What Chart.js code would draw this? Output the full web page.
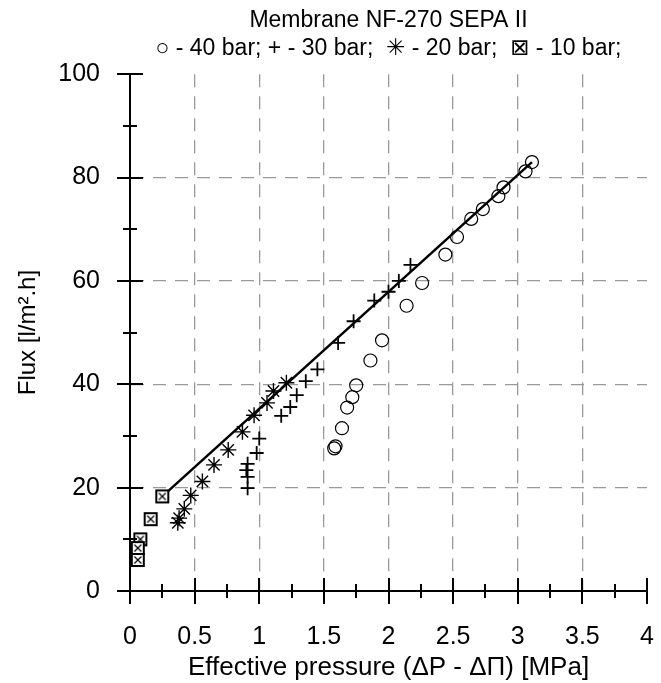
<!DOCTYPE html>
<html>
<head>
<meta charset="utf-8">
<script src="https://cdn.jsdelivr.net/npm/chart.js@4.4.1/dist/chart.umd.min.js"></script>
<style>
  html, body { margin: 0; padding: 0; background: #fff; }
</style>
</head>
<body>
<canvas id="fluxChart" width="661" height="683"></canvas>
<script>
// Membrane NF-270 SEPA II - flux vs effective pressure
const bar40X = [3.11, 3.06, 2.89, 2.85, 2.73, 2.64, 2.53, 2.44, 2.26, 2.14, 1.95, 1.86, 1.75, 1.72, 1.68, 1.64, 1.59, 1.58];
const bar40Y = [83.0, 81.2, 78.1, 76.4, 73.9, 72.0, 68.5, 65.1, 59.6, 55.2, 48.5, 44.6, 39.8, 37.5, 35.5, 31.5, 28.0, 27.6];

const bar30X = [2.17, 2.08, 2.00, 1.89, 1.73, 1.61, 1.45, 1.36, 1.29, 1.24, 1.17, 1.00, 0.98, 0.91, 0.90, 0.91, 0.91];
const bar30Y = [63.1, 60.0, 57.9, 56.2, 52.2, 48.0, 42.9, 40.6, 37.9, 35.6, 33.9, 29.5, 26.7, 24.6, 23.4, 22.1, 19.9];

const bar20X = [1.21, 1.11, 1.06, 0.96, 0.87, 0.76, 0.65, 0.56, 0.47, 0.42, 0.38, 0.37];
const bar20Y = [40.3, 38.7, 36.4, 34.0, 30.8, 27.3, 24.4, 21.2, 18.5, 15.9, 14.1, 13.2];

const bar10X = [0.25, 0.16, 0.08, 0.06, 0.06];
const bar10Y = [18.3, 13.9, 10.0, 8.3, 6.0];

// fitted line
const fitX = [0.25, 3.11];
const fitY = [18.3, 83.0];

const xTickLabels = ['0', '0.5', '1', '1.5', '2', '2.5', '3', '3.5', '4'];
const yTickLabels = ['0', '20', '40', '60', '80', '100'];

const FONT = "'Liberation Sans', Arial, 'DejaVu Sans', sans-serif";

function toPoints(xs, ys) {
    return xs.map((x, i) => ({ x: x, y: ys[i] }));
}

// square with a cross inside
function boxCross() {
    const c = document.createElement('canvas');
    c.width = 16; c.height = 16;
    const g = c.getContext('2d');
    g.fillStyle = '#fff';
    g.fillRect(2, 2, 12, 12);
    g.strokeStyle = '#000';
    g.lineWidth = 2;
    g.strokeRect(2, 2, 12, 12);
    g.lineWidth = 1.2;
    g.beginPath();
    g.moveTo(4.5, 4.5); g.lineTo(11.5, 11.5);
    g.moveTo(11.5, 4.5); g.lineTo(4.5, 11.5);
    g.stroke();
    return c;
}

// tick marks crossing the axes
const crossTicks = {
    id: 'crossTicks',
    afterDraw(chart) {
        const ctx = chart.ctx;
        const xs = chart.scales.x, ys = chart.scales.y;
        const x0 = xs.left, y0 = ys.bottom;
        ctx.save();
        ctx.strokeStyle = '#000';
        ctx.lineWidth = 2;
        ctx.beginPath();
        for (let v = 0; v <= 100; v += 10) {
            const len = v % 20 === 0 ? 13 : 7;
            const py = Math.round(ys.getPixelForValue(v));
            ctx.moveTo(x0 - len, py); ctx.lineTo(x0 + len, py);
        }
        for (let i = 0; i <= 16; i++) {
            const v = i * 0.25;
            const len = i % 2 === 0 ? 13 : 7;
            const px = Math.round(xs.getPixelForValue(v));
            ctx.moveTo(px, y0 - len); ctx.lineTo(px, y0 + len);
        }
        ctx.stroke();
        ctx.restore();
    }
};

const ctx = document.getElementById('fluxChart').getContext('2d');
new Chart(ctx, {
    type: 'scatter',
    data: {
        datasets: [
            {
                label: '10 bar',
                data: toPoints(bar10X, bar10Y),
                pointStyle: boxCross(),
                order: 0
            },
            {
                label: '20 bar',
                data: toPoints(bar20X, bar20Y),
                pointStyle: 'star',
                pointRadius: 8,
                borderColor: '#000',
                borderWidth: 1.4,
                order: 1
            },
            {
                label: '30 bar',
                data: toPoints(bar30X, bar30Y),
                pointStyle: 'cross',
                pointRadius: 7,
                borderColor: '#000',
                borderWidth: 1.8,
                order: 2
            },
            {
                label: '40 bar',
                data: toPoints(bar40X, bar40Y),
                pointStyle: 'circle',
                pointRadius: 6.5,
                borderColor: '#000',
                backgroundColor: 'rgba(0,0,0,0)',
                borderWidth: 1.2,
                order: 3
            },
            {
                type: 'line',
                label: 'fit',
                data: toPoints(fitX, fitY),
                borderColor: '#000',
                borderWidth: 2.5,
                pointRadius: 0,
                showLine: true,
                order: 5
            }
        ]
    },
    options: {
        responsive: false,
        animation: false,
        maintainAspectRatio: false,
        layout: { padding: { left: 0, right: 14, top: 0, bottom: 0 } },
        plugins: {
            legend: { display: false },
            tooltip: { enabled: false },
            title: {
                display: true,
                fullSize: false,
                text: ['Membrane NF-270 SEPA II', '\u25CB - 40 bar; + - 30 bar;  \u2733 - 20 bar;  \u22A0 - 10 bar;'],
                color: '#000',
                font: { family: FONT, size: 23, weight: 'normal', lineHeight: 1.2 },
                padding: { top: 7, bottom: 12 }
            }
        },
        scales: {
            x: {
                type: 'linear',
                min: 0, max: 4,
                afterBuildTicks(scale) {
                    scale.ticks = Array.from({ length: 17 }, (_, i) => ({ value: i * 0.25 }));
                },
                afterFit(scale) {
                    scale.height = 92;
                    scale.paddingRight = 8;
                    scale.paddingLeft = 8;
                },
                ticks: {
                    autoSkip: false,
                    maxRotation: 0,
                    color: '#000',
                    padding: 31,
                    font: { family: FONT, size: 25 },
                    callback: (v, i) => (i % 2 === 0 ? xTickLabels[i / 2] : '')
                },
                grid: {
                    drawTicks: false,
                    lineWidth: 1.3,
                    color: (c) => {
                        const v = c.tick && c.tick.value;
                        const i = Math.round(v / 0.25);
                        return (i % 2 === 0 && i > 0 && i < 16) ? '#999' : 'rgba(0,0,0,0)';
                    }
                },
                border: { display: true, color: '#000', width: 2, dash: [13, 9] },
                title: {
                    display: true,
                    text: 'Effective pressure (\u0394P - \u0394\u03A0) [MPa]',
                    color: '#000',
                    font: { family: FONT, size: 26 },
                    padding: { top: 0, bottom: 0 }
                }
            },
            y: {
                type: 'linear',
                min: 0, max: 100,
                afterBuildTicks(scale) {
                    scale.ticks = Array.from({ length: 11 }, (_, i) => ({ value: i * 10 }));
                },
                afterFit(scale) { scale.width = 130; },
                ticks: {
                    color: '#000',
                    padding: 30,
                    font: { family: FONT, size: 25 },
                    callback: (v, i) => (i % 2 === 0 ? yTickLabels[i / 2] : '')
                },
                grid: {
                    drawTicks: false,
                    lineWidth: 1.3,
                    color: (c) => {
                        const v = c.tick && c.tick.value;
                        return (v % 20 === 0 && v > 0 && v < 100) ? '#999' : 'rgba(0,0,0,0)';
                    }
                },
                border: { display: true, color: '#000', width: 2, dash: [13, 9] },
                title: {
                    display: true,
                    text: 'Flux [l/m\u00B2.h]',
                    color: '#000',
                    font: { family: FONT, size: 24 },
                    padding: { top: 14, bottom: 4 }
                }
            }
        }
    },
    plugins: [crossTicks]
});
</script>
</body>
</html>
